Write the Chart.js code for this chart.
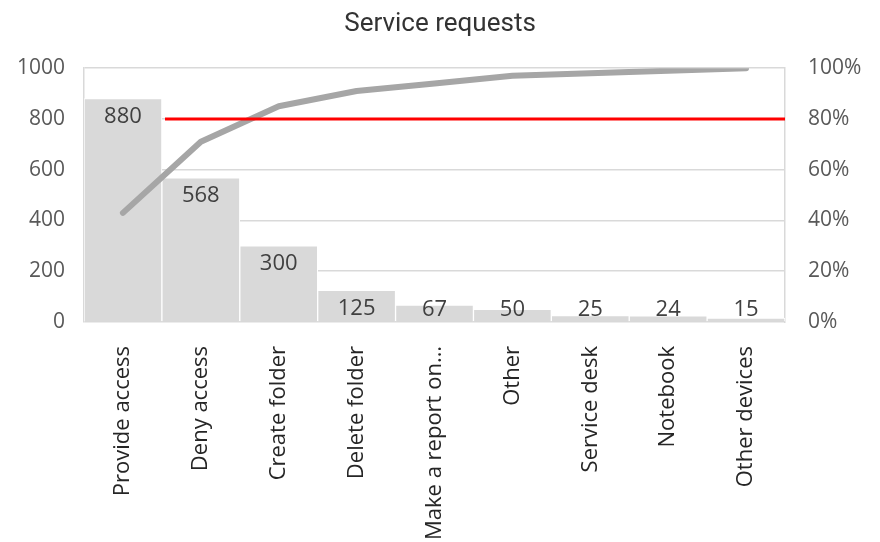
<!DOCTYPE html>
<html>
<head>
<meta charset="utf-8">
<script src="https://cdn.jsdelivr.net/npm/chart.js@4/dist/chart.umd.min.js"></script>
<style>
  html, body { margin: 0; padding: 0; background: #ffffff; }
  #wrap { width: 880px; height: 542px; }
</style>
</head>
<body>
<div id="wrap"><canvas id="c" width="880" height="542"></canvas></div>
<script>
const categories = ["Provide access", "Deny access", "Create folder", "Delete folder", "Make a report on…", "Other", "Service desk", "Notebook", "Other devices"];
const requests = [880, 568, 300, 125, 67, 50, 25, 24, 15];
const cumulativePct = [43, 71, 85, 91, 94, 97, 98, 99, 100];
const thresholdLine = [{x: 1.04, y: 80}, {x: 9, y: 80}];
const leftTicks = [0, 200, 400, 600, 800, 1000];
const rightTicks = [0, 20, 40, 60, 80, 100];

const barLabels = {
  id: 'barLabels',
  afterDatasetsDraw(chart) {
    const meta = chart.getDatasetMeta(2);
    const ctx = chart.ctx;
    const bottom = chart.chartArea.bottom;
    ctx.save();
    ctx.font = '22px "Open Sans"';
    ctx.fillStyle = '#404040';
    ctx.textAlign = 'center';
    ctx.textBaseline = 'middle';
    meta.data.forEach((el, i) => {
      const y = Math.min(el.y + 18, bottom - 12);
      ctx.fillText(String(requests[i]), el.x, y);
    });
    ctx.restore();
  }
};

new Chart(document.getElementById('c'), {
  type: 'bar',
  data: {
    labels: categories,
    datasets: [
      {
        type: 'line',
        data: thresholdLine,
        xAxisID: 'xLin',
        yAxisID: 'yPct',
        borderColor: '#ff0000',
        borderWidth: 3,
        pointRadius: 0,
        order: 0
      },
      {
        type: 'line',
        data: cumulativePct,
        xAxisID: 'x',
        yAxisID: 'yPct',
        borderColor: '#a6a6a6',
        borderWidth: 6,
        borderCapStyle: 'round',
        borderJoinStyle: 'round',
        pointRadius: 0,
        tension: 0,
        order: 1
      },
      {
        type: 'bar',
        data: requests,
        xAxisID: 'x',
        yAxisID: 'y',
        backgroundColor: '#d9d9d9',
        borderColor: '#ffffff',
        borderWidth: 1,
        borderSkipped: 'bottom',
        grouped: false,
        categoryPercentage: 1,
        barPercentage: 1,
        order: 2
      }
    ]
  },
  options: {
    responsive: false,
    animation: false,
    layout: { padding: { left: 0, right: 0, top: 0, bottom: 0 } },
    plugins: {
      legend: { display: false },
      tooltip: { enabled: false },
      title: {
        display: true,
        text: 'Service requests',
        color: '#333333',
        font: { family: 'Roboto', size: 26, weight: 'normal' },
        padding: { top: 9, bottom: 28 }
      }
    },
    scales: {
      x: {
        type: 'category',
        offset: true,
        grid: { display: false, offset: true },
        border: { display: false },
        ticks: {
          minRotation: 90,
          maxRotation: 90,
          autoSkip: false,
          color: '#262626',
          padding: 16,
          font: { family: 'Open Sans', size: 22 }
        },
        afterFit(s) { s.height = 220; }
      },
      xLin: {
        type: 'linear',
        display: false,
        offset: false,
        grid: { offset: false },
        min: 0,
        max: 9
      },
      y: {
        position: 'left',
        min: 0,
        max: 1000,
        afterBuildTicks(s) { s.ticks = leftTicks.map(v => ({ value: v })); },
        ticks: {
          color: '#595959',
          padding: 19,
          font: { family: 'Open Sans', size: 21 },
          callback: v => String(v)
        },
        grid: { color: '#d9d9d9', lineWidth: 1.5, drawTicks: false },
        border: { display: true, color: '#d9d9d9', width: 1.5 },
        afterFit(s) { s.width = 84; }
      },
      yPct: {
        position: 'right',
        min: 0,
        max: 100,
        afterBuildTicks(s) { s.ticks = rightTicks.map(v => ({ value: v })); },
        ticks: {
          color: '#595959',
          padding: 23,
          font: { family: 'Open Sans', size: 21 },
          callback: v => v + '%'
        },
        grid: { display: false, drawTicks: false },
        border: { display: true, color: '#d9d9d9', width: 1.5 },
        afterFit(s) { s.width = 95; }
      }
    }
  },
  plugins: [barLabels]
});
</script>
</body>
</html>
